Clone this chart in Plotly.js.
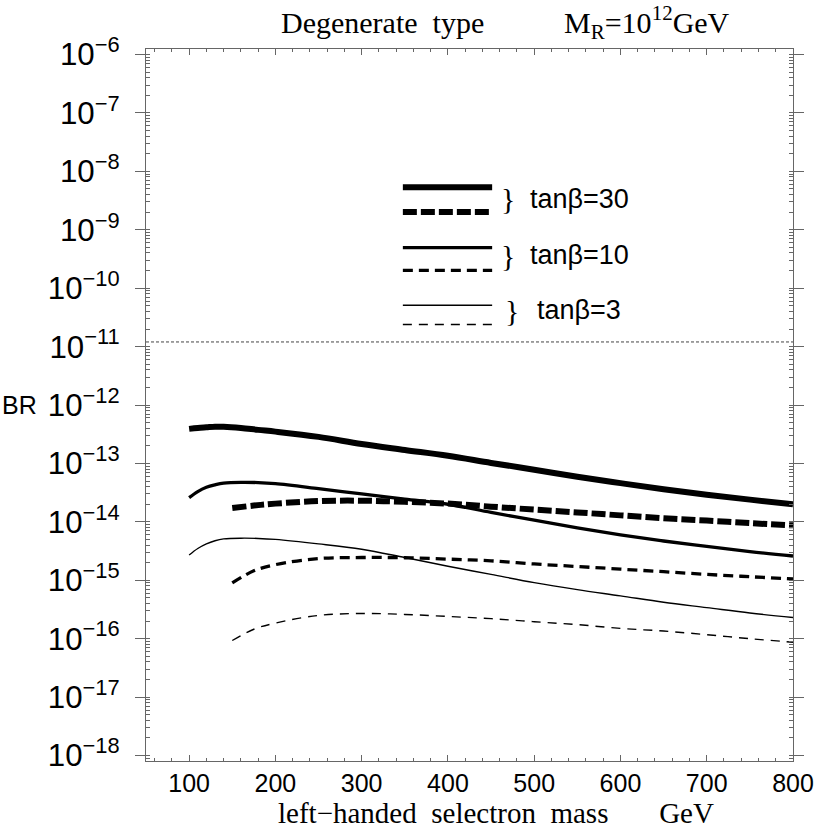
<!DOCTYPE html>
<html>
<head>
<meta charset="utf-8">
<script src="https://cdn.plot.ly/plotly-3.0.1.min.js"></script>
<style>html,body{margin:0;padding:0;background:#fff}</style>
</head>
<body>
<div id="chart" style="width:817px;height:828px"></div>
<script>
// selectron mass grid (GeV)
const massSolid  = [100,110,120,130,140,160,180,200,250,300,350,400,450,500,550,600,650,700,750,800];
const massDashed = [150,175,200,250,300,350,400,450,500,550,600,650,700,750,800];

// BR values, solid lines
const brSolid30 = [3.9e-13,4.05e-13,4.15e-13,4.25e-13,4.25e-13,4.05e-13,3.75e-13,3.5e-13,2.85e-13,2.15e-13,1.7e-13,1.35e-13,1.02e-13,7.8e-14,5.9e-14,4.6e-14,3.6e-14,2.9e-14,2.4e-14,2.0e-14];
const brSolid10 = [2.6e-14,3.3e-14,3.9e-14,4.3e-14,4.6e-14,4.75e-14,4.7e-14,4.5e-14,3.7e-14,3.0e-14,2.45e-14,2.0e-14,1.45e-14,1.07e-14,7.9e-15,6.0e-15,4.7e-15,3.8e-15,3.1e-15,2.6e-15];
const brSolid3  = [2.7e-15,3.5e-15,4.2e-15,4.75e-15,5.1e-15,5.25e-15,5.2e-15,5.0e-15,4.2e-15,3.4e-15,2.45e-15,1.74e-15,1.26e-15,9.1e-16,6.9e-16,5.4e-16,4.2e-16,3.4e-16,2.75e-16,2.3e-16];
// BR values, dashed lines
const brDash30 = [1.72e-14,1.9e-14,2.05e-14,2.27e-14,2.3e-14,2.2e-14,2.05e-14,1.82e-14,1.62e-14,1.45e-14,1.29e-14,1.15e-14,1.05e-14,9.5e-15,8.7e-15];
const brDash10 = [9.0e-16,1.45e-15,1.85e-15,2.35e-15,2.45e-15,2.43e-15,2.3e-15,2.15e-15,1.9e-15,1.72e-15,1.55e-15,1.4e-15,1.26e-15,1.15e-15,1.05e-15];
const brDash3  = [9.3e-17,1.45e-16,1.85e-16,2.5e-16,2.7e-16,2.6e-16,2.4e-16,2.2e-16,1.95e-16,1.74e-16,1.5e-16,1.35e-16,1.17e-16,1.0e-16,8.7e-17];

// experimental bound
const boundBR = 1.2e-11;

const legendLabels = ["tan\u03B2=30","tan\u03B2=10","tan\u03B2=3"];
const titleLeft = "Degenerate\u00a0\u00a0type";
const titleRight = "M<sub>R</sub>=10<sup>12</sup>GeV";
const xTitle = "left\u2212handed\u00a0\u00a0selectron\u00a0\u00a0mass\u00a0\u00a0\u00a0\u00a0\u00a0\u00a0\u00a0GeV";
const yTitle = "BR";

const W = {thick:6, mid:3.3, thin:1.4};
const D = {thick:"14px,4px", mid:"10px,6px", thin:"9px,7px"};

function tr(x,y,w,dash){
  return {x:x,y:y,type:'scatter',mode:'lines',
    line:{color:'#000',width:w,dash:dash||'solid',shape:'spline',smoothing:1},
    hoverinfo:'skip',showlegend:false};
}
const data = [
  tr(massSolid,brSolid30,W.thick),
  tr(massSolid,brSolid10,W.mid),
  tr(massSolid,brSolid3,W.thin),
  tr(massDashed,brDash30,W.thick,D.thick),
  tr(massDashed,brDash10,W.mid,D.mid),
  tr(massDashed,brDash3,W.thin,D.thin)
];

const axCol = '#666';
const sans = 'Liberation Sans, Arial, sans-serif';
const serif = 'Liberation Serif, Times New Roman, serif';
const yr = [-18.094,-5.906];

function legLine(y,w,dash){
  return {type:'line',xref:'paper',yref:'paper',x0:0.397,x1:0.535,y0:y,y1:y,
    line:{color:'#000',width:w,dash:dash||'solid'}};
}

const layout = {
  width:817,height:828,
  margin:{l:146,r:24,t:48.5,b:67,pad:0},
  paper_bgcolor:'#fff',plot_bgcolor:'#fff',
  showlegend:false,
  font:{family:sans,color:'#000'},
  xaxis:{
    range:[50,800],tick0:0,dtick:100,
    showline:true,linecolor:axCol,linewidth:1.3,mirror:'allticks',
    ticks:'inside',ticklen:6,tickcolor:axCol,tickwidth:1,
    minor:{dtick:20,ticks:'inside',ticklen:3,tickcolor:axCol},
    showgrid:false,zeroline:false,
    tickfont:{family:sans,size:25,color:'#000'}
  },
  yaxis:{
    type:'log',range:yr,dtick:1,exponentformat:'power',
    showline:true,linecolor:axCol,linewidth:1.3,mirror:'allticks',
    ticks:'outside',ticklen:10,tickcolor:axCol,tickwidth:1,
    ticklabelstandoff:10,
    minor:{dtick:'D1',ticks:'inside',ticklen:4,tickcolor:axCol},
    showgrid:false,zeroline:false,
    tickfont:{family:sans,size:25,color:'#000'}
  },
  yaxis2:{
    type:'log',range:yr,dtick:1,overlaying:'y',side:'left',
    showline:false,mirror:'allticks',
    ticks:'inside',ticklen:9,tickcolor:axCol,tickwidth:1,
    showticklabels:false,showgrid:false,zeroline:false
  },
  shapes:[
    {type:'line',xref:'paper',yref:'y',x0:0,x1:1,y0:boundBR,y1:boundBR,
     line:{color:'#444',width:1,dash:'3px,2px'}},
    legLine(0.806,W.thick), legLine(0.771,W.thick,D.thick),
    legLine(0.721,W.mid),   legLine(0.689,W.mid,D.mid),
    legLine(0.640,W.thin),  legLine(0.613,W.thin,D.thin)
  ],
  annotations:[
    {xref:'paper',yref:'paper',x:0.2056,y:1.037,xanchor:'left',yanchor:'middle',showarrow:false,
     text:titleLeft,font:{family:serif,size:30,color:'#000'}},
    {xref:'paper',yref:'paper',x:0.643,y:1.037,xanchor:'left',yanchor:'middle',showarrow:false,
     text:titleRight,font:{family:serif,size:30,color:'#000'}},
    {xref:'paper',yref:'paper',x:0.201,y:-0.073,xanchor:'left',yanchor:'middle',showarrow:false,
     text:xTitle,font:{family:serif,size:29,color:'#000'}},
    {xref:'paper',yref:'paper',x:-0.225,y:0.5,xanchor:'left',yanchor:'middle',showarrow:false,
     text:yTitle,font:{family:sans,size:25,color:'#000'}},
    {xref:'paper',yref:'paper',x:0.5595,y:0.790,xanchor:'center',yanchor:'middle',showarrow:false,
     text:'}',font:{family:serif,size:30,color:'#000'}},
    {xref:'paper',yref:'paper',x:0.5595,y:0.710,xanchor:'center',yanchor:'middle',showarrow:false,
     text:'}',font:{family:serif,size:30,color:'#000'}},
    {xref:'paper',yref:'paper',x:0.566,y:0.633,xanchor:'center',yanchor:'middle',showarrow:false,
     text:'}',font:{family:serif,size:30,color:'#000'}},
    {xref:'paper',yref:'paper',x:0.590,y:0.790,xanchor:'left',yanchor:'middle',showarrow:false,
     text:legendLabels[0],font:{family:sans,size:27,color:'#000'}},
    {xref:'paper',yref:'paper',x:0.590,y:0.710,xanchor:'left',yanchor:'middle',showarrow:false,
     text:legendLabels[1],font:{family:sans,size:27,color:'#000'}},
    {xref:'paper',yref:'paper',x:0.601,y:0.633,xanchor:'left',yanchor:'middle',showarrow:false,
     text:legendLabels[2],font:{family:sans,size:27,color:'#000'}}
  ]
};

Plotly.newPlot('chart',data,layout,{displayModeBar:false,staticPlot:true});
</script>
</body>
</html>
